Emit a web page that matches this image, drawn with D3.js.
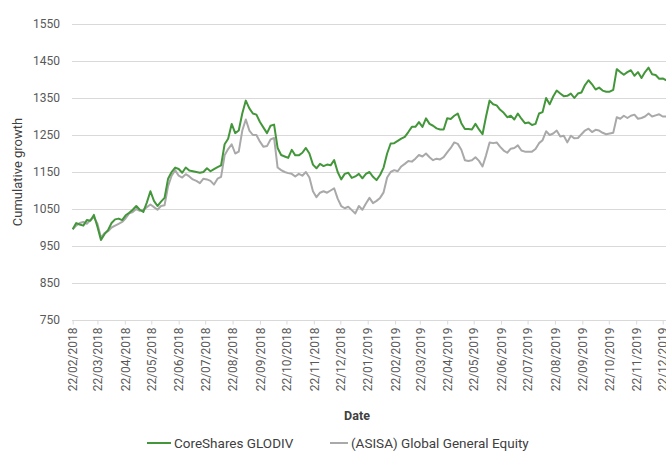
<!DOCTYPE html>
<html lang="en">
<head>
    <meta charset="utf-8">
    <script src="https://d3js.org/d3.v7.min.js"></script>
    <style>
        body { margin: 0; background: #fff; }
        text { font-family: Roboto, sans-serif; }
    </style>
</head>
<body>
<div id="chart"></div>
<script>

// dates of the sampled points (every 4 days)
const dates = [
  "2018-02-22","2018-02-26","2018-03-02","2018-03-06","2018-03-10","2018-03-14","2018-03-18","2018-03-22","2018-03-26","2018-03-30",
  "2018-04-03","2018-04-07","2018-04-11","2018-04-15","2018-04-19","2018-04-23","2018-04-27","2018-05-01","2018-05-05","2018-05-09",
  "2018-05-13","2018-05-17","2018-05-21","2018-05-25","2018-05-29","2018-06-02","2018-06-06","2018-06-10","2018-06-14","2018-06-18",
  "2018-06-22","2018-06-26","2018-06-30","2018-07-04","2018-07-08","2018-07-12","2018-07-16","2018-07-20","2018-07-24","2018-07-28",
  "2018-08-01","2018-08-05","2018-08-09","2018-08-13","2018-08-17","2018-08-21","2018-08-25","2018-08-29","2018-09-02","2018-09-06",
  "2018-09-10","2018-09-14","2018-09-18","2018-09-22","2018-09-26","2018-09-30","2018-10-04","2018-10-08","2018-10-12","2018-10-16",
  "2018-10-20","2018-10-24","2018-10-28","2018-11-01","2018-11-05","2018-11-09","2018-11-13","2018-11-17","2018-11-21","2018-11-25",
  "2018-11-29","2018-12-03","2018-12-07","2018-12-11","2018-12-15","2018-12-19","2018-12-23","2018-12-27","2018-12-31","2019-01-04",
  "2019-01-08","2019-01-12","2019-01-16","2019-01-20","2019-01-24","2019-01-28","2019-02-01","2019-02-05","2019-02-09","2019-02-13",
  "2019-02-17","2019-02-21","2019-02-25","2019-03-01","2019-03-05","2019-03-09","2019-03-13","2019-03-17","2019-03-21","2019-03-25",
  "2019-03-29","2019-04-02","2019-04-06","2019-04-10","2019-04-14","2019-04-18","2019-04-22","2019-04-26","2019-04-30","2019-05-04",
  "2019-05-08","2019-05-12","2019-05-16","2019-05-20","2019-05-24","2019-05-28","2019-06-01","2019-06-05","2019-06-09","2019-06-13",
  "2019-06-17","2019-06-21","2019-06-25","2019-06-29","2019-07-03","2019-07-07","2019-07-11","2019-07-15","2019-07-19","2019-07-23",
  "2019-07-27","2019-07-31","2019-08-04","2019-08-08","2019-08-12","2019-08-16","2019-08-20","2019-08-24","2019-08-28","2019-09-01",
  "2019-09-05","2019-09-09","2019-09-13","2019-09-17","2019-09-21","2019-09-25","2019-09-29","2019-10-03","2019-10-07","2019-10-11",
  "2019-10-15","2019-10-19","2019-10-23","2019-10-27","2019-10-31","2019-11-04","2019-11-08","2019-11-12","2019-11-16","2019-11-20",
  "2019-11-24","2019-11-28","2019-12-02","2019-12-06","2019-12-10","2019-12-14","2019-12-18","2019-12-22","2019-12-26"
];

// CoreShares GLODIV
const glodiv = [
  995,1012,1008,1005,1020,1018,1034,1002,966,982,
  993,1012,1022,1024,1020,1033,1040,1048,1058,1048,
  1042,1068,1098,1072,1058,1070,1080,1132,1150,1162,
  1158,1148,1162,1154,1152,1150,1148,1150,1160,1152,
  1158,1163,1168,1225,1240,1280,1255,1262,1308,1343,
  1322,1308,1305,1285,1270,1255,1275,1278,1215,1196,
  1192,1188,1210,1195,1195,1202,1215,1200,1170,1160,
  1172,1166,1170,1168,1182,1150,1130,1145,1148,1134,
  1138,1145,1133,1145,1150,1137,1128,1142,1162,1200,
  1227,1228,1234,1240,1245,1258,1272,1272,1285,1272,
  1295,1280,1275,1268,1265,1265,1295,1293,1302,1308,
  1282,1266,1266,1265,1280,1265,1252,1300,1343,1333,
  1330,1318,1310,1298,1302,1292,1308,1294,1282,1284,
  1277,1280,1308,1312,1350,1333,1354,1370,1362,1355,
  1356,1362,1350,1362,1365,1385,1398,1387,1373,1378,
  1370,1367,1367,1372,1428,1420,1413,1420,1425,1410,
  1420,1404,1420,1432,1414,1412,1402,1403,1398
];

// (ASISA) Global General Equity
const asisa = [
  995,1005,1012,1015,1010,1020,1028,1010,972,985,
  990,1000,1005,1010,1015,1025,1038,1042,1050,1045,
  1048,1055,1062,1055,1048,1058,1060,1112,1140,1155,
  1140,1135,1144,1138,1130,1126,1120,1132,1130,1126,
  1116,1132,1137,1195,1212,1225,1200,1205,1262,1292,
  1262,1250,1250,1232,1218,1220,1238,1242,1162,1155,
  1150,1147,1145,1138,1145,1140,1150,1135,1098,1082,
  1094,1098,1094,1100,1106,1078,1058,1052,1056,1047,
  1038,1058,1048,1065,1080,1066,1072,1080,1095,1135,
  1150,1155,1152,1165,1172,1180,1178,1186,1196,1192,
  1200,1190,1182,1186,1184,1190,1203,1215,1230,1226,
  1210,1182,1180,1182,1190,1180,1165,1195,1230,1228,
  1230,1218,1208,1202,1213,1215,1222,1208,1205,1205,
  1205,1212,1228,1236,1260,1250,1254,1262,1246,1248,
  1230,1248,1241,1242,1252,1262,1267,1258,1264,1262,
  1256,1252,1254,1256,1298,1294,1302,1296,1302,1305,
  1294,1296,1300,1308,1300,1303,1306,1300,1300
];

const yTicks = [750, 850, 950, 1050, 1150, 1250, 1350, 1450, 1550];
const xTicks = [
  "2018-02-22","2018-03-22","2018-04-22","2018-05-22","2018-06-22","2018-07-22",
  "2018-08-22","2018-09-22","2018-10-22","2018-11-22","2018-12-22","2019-01-22",
  "2019-02-22","2019-03-22","2019-04-22","2019-05-22","2019-06-22","2019-07-22",
  "2019-08-22","2019-09-22","2019-10-22","2019-11-22","2019-12-22"
];

const seriesNames = ["CoreShares GLODIV", "(ASISA) Global General Equity"];
const colors = ["#43973a", "#a9a9a9"];

const width = 666, height = 454;
const parse = d3.timeParse("%Y-%m-%d");

const x = d3.scaleTime()
  .domain([parse("2018-02-22"), parse("2019-12-22")])
  .range([72.7, 662.7]);
const y = d3.scaleLinear().domain([750, 1550]).range([320, 24]);

const svg = d3.select("#chart").append("svg")
  .attr("width", width)
  .attr("height", height);

// gridlines
svg.append("g")
  .selectAll("line")
  .data(yTicks)
  .join("line")
  .attr("x1", 72).attr("x2", width)
  .attr("y1", d => y(d) + 0.5).attr("y2", d => y(d) + 0.5)
  .attr("stroke", "#d9d9d9")
  .attr("stroke-width", 1);

// y axis labels
const yAxis = svg.append("g")
  .attr("transform", "translate(66,0)")
  .call(d3.axisLeft(y).tickValues(yTicks).tickSize(0).tickPadding(6).tickFormat(d3.format("d")));
yAxis.select(".domain").remove();
yAxis.selectAll("text")
  .attr("fill", "#595959")
  .style("font-size", "12px");

// x axis
const xAxis = svg.append("g")
  .attr("transform", "translate(0,320.5)")
  .call(d3.axisBottom(x).tickValues(xTicks.map(parse)).tickSize(4).tickFormat(d3.timeFormat("%d/%m/%Y")));
xAxis.select(".domain").remove();
xAxis.selectAll("line").attr("stroke", "#d9d9d9");
xAxis.selectAll("text")
  .attr("fill", "#595959")
  .style("font-size", "12px")
  .attr("text-anchor", "end")
  .attr("transform", "rotate(-90)")
  .attr("x", -7)
  .attr("y", 0)
  .attr("dy", "0.35em");

// lines
const line = d3.line()
  .x((d, i) => x(parse(dates[i])))
  .y(d => y(d));

[asisa, glodiv].forEach((vals, k) => {
  svg.append("path")
    .datum(vals)
    .attr("fill", "none")
    .attr("stroke", k === 0 ? colors[1] : colors[0])
    .attr("stroke-width", 2)
    .attr("stroke-linejoin", "round")
    .attr("d", line);
});

// axis titles
svg.append("text")
  .attr("transform", "translate(22,172) rotate(-90)")
  .attr("text-anchor", "middle")
  .attr("fill", "#404040")
  .style("font-size", "13px")
  .text("Cumulative growth");

svg.append("text")
  .attr("x", 357).attr("y", 420)
  .attr("text-anchor", "middle")
  .attr("fill", "#404040")
  .style("font-size", "12.5px")
  .style("font-weight", "bold")
  .text("Date");

// legend
const legendX = [147, 330];
const legendLen = [24, 18];
const legend = svg.append("g")
  .selectAll("g")
  .data(seriesNames)
  .join("g")
  .attr("transform", (d, i) => `translate(${legendX[i]},443)`);
legend.append("line")
  .attr("x1", 0).attr("x2", (d, i) => legendLen[i])
  .attr("stroke", (d, i) => colors[i])
  .attr("stroke-width", 2);
legend.append("text")
  .attr("x", (d, i) => legendLen[i] + 3)
  .attr("dy", "0.35em")
  .attr("fill", "#404040")
  .style("font-size", "13.5px")
  .text(d => d);
</script>
</body>
</html>
